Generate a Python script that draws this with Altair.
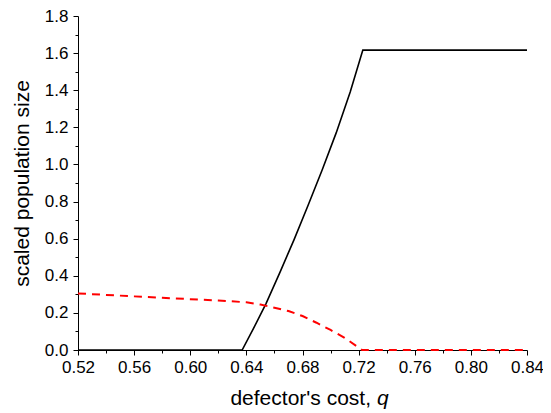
import altair as alt
import pandas as pd

# Black (solid) series
black_q = [0.52, 0.637, 0.645, 0.654, 0.664, 0.674, 0.684, 0.694, 0.704, 0.714, 0.723, 0.84]
black_y = [0.0, 0.0, 0.115, 0.25, 0.42, 0.595, 0.78, 0.97, 1.17, 1.39, 1.616, 1.616]

# Red (dashed) series
red_q = [0.52, 0.54, 0.56, 0.58, 0.60, 0.62, 0.64, 0.65, 0.66, 0.67, 0.68, 0.69, 0.70, 0.71, 0.7225, 0.84]
red_y = [0.305, 0.297, 0.289, 0.281, 0.274, 0.267, 0.257, 0.245, 0.228, 0.21, 0.183, 0.147, 0.108, 0.066, 0.0, 0.0]

x_major = [0.52, 0.56, 0.60, 0.64, 0.68, 0.72, 0.76, 0.80, 0.84]
x_minor = [0.54, 0.58, 0.62, 0.66, 0.70, 0.74, 0.78, 0.82]
y_major = [0.0, 0.2, 0.4, 0.6, 0.8, 1.0, 1.2, 1.4, 1.6, 1.8]
y_minor = [0.1, 0.3, 0.5, 0.7, 0.9, 1.1, 1.3, 1.5, 1.7]

FONT = "Liberation Sans"
W, H = 449, 334

black_df = pd.DataFrame({"q": black_q, "y": black_y})
red_df = pd.DataFrame({"q": red_q, "y": red_y})

xscale = alt.Scale(domain=[0.52, 0.84], nice=False, zero=False)
yscale = alt.Scale(domain=[0, 1.8], nice=False)

common = dict(grid=False, domainColor="black", tickColor="black", labelFlush=False,
              labelOverlap=False, labelFont=FONT, labelFontSize=17, labelColor="black")

xaxis = alt.Axis(values=x_major, title=None, format=".2f", tickSize=5, labelPadding=4,
                 orient="bottom", **common)
yaxis = alt.Axis(values=y_major, title="scaled population size", format=".1f", tickSize=5,
                 labelPadding=5, orient="left",
                 titleFont=FONT, titleFontSize=21, titleFontWeight="normal", titleColor="black",
                 titlePadding=12, **common)
xminor = alt.Axis(values=x_minor, title=None, labels=False, tickSize=3, domain=False,
                  grid=False, tickColor="black", orient="bottom")
yminor = alt.Axis(values=y_minor, title=None, labels=False, tickSize=3, domain=False,
                  grid=False, tickColor="black", orient="left")

black = alt.Chart(black_df).mark_line(color="black", strokeWidth=1.6).encode(
    x=alt.X("q:Q", scale=xscale, axis=xaxis),
    y=alt.Y("y:Q", scale=yscale, axis=yaxis),
)
minor = alt.Chart(black_df).mark_point(opacity=0).encode(
    x=alt.X("q:Q", scale=xscale, axis=xminor),
    y=alt.Y("y:Q", scale=yscale, axis=yminor),
)
red = alt.Chart(red_df).mark_line(color="#ff0000", strokeWidth=2, strokeDash=[8, 6]).encode(
    x=alt.X("q:Q", scale=xscale, axis=None),
    y=alt.Y("y:Q", scale=yscale, axis=None),
)

title_df = pd.DataFrame({"t": ["defector's cost,"]})
q_df = pd.DataFrame({"t": ["q"]})
title_main = alt.Chart(title_df).mark_text(
    font=FONT, fontSize=21, align="right", baseline="alphabetic", color="black"
).encode(text="t:N", x=alt.value(293), y=alt.value(H + 55))
title_q = alt.Chart(q_df).mark_text(
    font=FONT, fontSize=21, fontStyle="italic", align="left", baseline="alphabetic", color="black"
).encode(text="t:N", x=alt.value(299), y=alt.value(H + 55))

chart = alt.layer(minor, black, red, title_main, title_q).resolve_axis(
    x="independent", y="independent"
).properties(
    width=W, height=H,
    autosize=alt.AutoSizeParams(type="none"),
    padding={"left": 70, "top": 8, "right": 16, "bottom": 60},
).configure_view(stroke=None)

chart.save("out.html", embed_options={"renderer": "svg", "actions": False})
